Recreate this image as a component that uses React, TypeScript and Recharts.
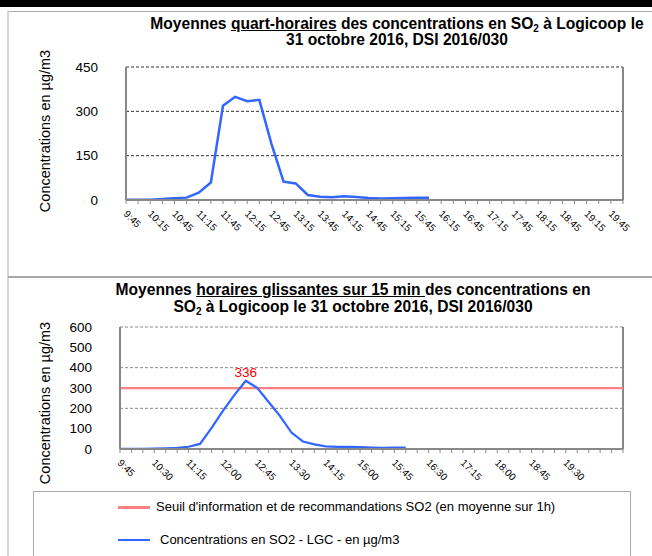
import { LineChart, Line, XAxis, YAxis, CartesianGrid, ReferenceLine } from 'recharts';

// quarter-hour averages (top chart)
const quarterTimes = [
  '9:45', '10:00', '10:15', '10:30', '10:45', '11:00', '11:15', '11:30', '11:45', '12:00',
  '12:15', '12:30', '12:45', '13:00', '13:15', '13:30', '13:45', '14:00', '14:15', '14:30',
  '14:45', '15:00', '15:15', '15:30', '15:45', '16:00', '16:15', '16:30', '16:45', '17:00',
  '17:15', '17:30', '17:45', '18:00', '18:15', '18:30', '18:45', '19:00', '19:15', '19:30',
  '19:45', '20:00',
];
const quarterValues = [1, 1, 1, 3, 6, 8, 25, 59, 319, 349, 334, 339, 190, 62, 56, 17, 11, 9, 13, 10, 7, 5, 6, 7, 8, 8];
const quarterTicks = [0, 150, 300, 450];

// sliding hourly averages (bottom chart)
const slidingTimes = [
  '9:45', '10:00', '10:15', '10:30', '10:45', '11:00', '11:15', '11:30', '11:45', '12:00',
  '12:15', '12:30', '12:45', '13:00', '13:15', '13:30', '13:45', '14:00', '14:15', '14:30',
  '14:45', '15:00', '15:15', '15:30', '15:45', '16:00', '16:15', '16:30', '16:45', '17:00',
  '17:15', '17:30', '17:45', '18:00', '18:15', '18:30', '18:45', '19:00', '19:15', '19:30',
  '19:45', '20:00', '20:15', '20:30', '20:45',
];
const slidingValues = [1, 1, 1, 2, 3, 5, 11, 25, 103, 188, 265, 336, 301, 231, 162, 81, 37, 23, 13, 11, 10, 9, 7, 6, 7, 7];
const slidingTicks = [0, 100, 200, 300, 400, 500, 600];
const slidingGrid = [200, 400, 600];
const threshold = 300;

const FONT = '"Liberation Sans", Arial, sans-serif';
const BLUE = '#3366FF';
const SALMON = '#FF8080';

const quarterData = quarterTimes.map((time, i) => ({ time, value: i < quarterValues.length ? quarterValues[i] : null }));
const slidingData = slidingTimes.map((time, i) => ({ time, value: i < slidingValues.length ? slidingValues[i] : null }));
const peakIndex = slidingValues.indexOf(Math.max(...slidingValues));

function timeTick(props: any, every: number, last: number) {
  const { x, y, payload, index } = props;
  if (index % every !== 0 || index > last) return <g />;
  return (
    <text
      transform={`translate(${x - 3},${y + 8.5}) rotate(45)`}
      textAnchor="start"
      fontSize={10}
      fontFamily={FONT}
      fill="#000"
    >
      {payload.value}
    </text>
  );
}

function peakLabel(props: any) {
  if (props.index !== peakIndex) return null;
  return (
    <text x={props.x} y={props.y - 4} textAnchor="middle" fontSize={13.5} fontFamily={FONT} fill="#FF0000">
      {props.value}
    </text>
  );
}

const yTick = { fill: '#000', fontSize: 13.5, fontFamily: FONT };
const axisLine = { stroke: '#888', strokeWidth: 2 };
const sub2 = <sub style={{ fontSize: 10, verticalAlign: '-3px', lineHeight: 0 }}>2</sub>;

function YTitle({ cx, cy }: { cx: number; cy: number }) {
  return (
    <div
      style={{
        position: 'absolute', left: cx - 100, top: cy - 9, width: 200, height: 18,
        textAlign: 'center', fontSize: 14.5, lineHeight: '18px', transform: 'rotate(-90deg)',
      }}
    >
      Concentrations en µg/m3
    </div>
  );
}

export default function App() {
  return (
    <div style={{ position: 'absolute', left: 0, top: 0, width: 652, height: 556, overflow: 'hidden', background: '#fff', fontFamily: FONT, color: '#000' }}>
      {/* frame */}
      <div style={{ position: 'absolute', left: 0, top: 0, width: 652, height: 7, background: '#000' }} />
      <div style={{ position: 'absolute', left: 8, top: 11, width: 644, height: 1, background: '#aaa' }} />
      <div style={{ position: 'absolute', left: 7, top: 11, width: 2, height: 545, background: '#d4d4d4' }} />
      <div style={{ position: 'absolute', left: 8, top: 276, width: 644, height: 2, background: '#a8a8a8' }} />

      {/* top chart */}
      <div style={{ position: 'absolute', left: 97, top: 16, width: 600, textAlign: 'center', fontWeight: 'bold', fontSize: 15.6, lineHeight: '16px', whiteSpace: 'nowrap' }}>
        Moyennes <u>quart-horaires</u> des concentrations en SO{sub2} à Logicoop le<br />
        31 octobre 2016, DSI 2016/030
      </div>
      <YTitle cx={45} cy={131} />
      <div style={{ position: 'absolute', left: 0, top: 0 }}>
        <LineChart width={652} height={276} data={quarterData} margin={{ top: 67, right: 29, bottom: 0, left: 0 }}>
          <CartesianGrid vertical={false} stroke="#333" strokeDasharray="3 2" />
          <XAxis
            dataKey="time"
            interval={0}
            height={76}
            tickSize={4}
            tickLine={{ stroke: '#888' }}
            axisLine={axisLine}
            tick={(p: any) => timeTick(p, 2, 40)}
          />
          <YAxis domain={[0, 450]} ticks={quarterTicks} interval={0} width={126} tickLine={false} tickMargin={22} axisLine={axisLine} tick={yTick} />
          <ReferenceLine x={quarterTimes[quarterTimes.length - 1]} stroke="#888" strokeWidth={2} />
          <Line type="linear" dataKey="value" stroke={BLUE} strokeWidth={2.5} dot={false} isAnimationActive={false} />
        </LineChart>
      </div>

      {/* bottom chart */}
      <div style={{ position: 'absolute', left: 53, top: 281, width: 600, textAlign: 'center', fontWeight: 'bold', fontSize: 15.6, lineHeight: '17px', whiteSpace: 'nowrap' }}>
        Moyennes <u>horaires glissantes sur 15 min </u>des concentrations en<br />
        SO{sub2} à Logicoop le 31 octobre 2016, DSI 2016/030
      </div>
      <YTitle cx={45} cy={403} />
      <div style={{ position: 'absolute', left: 0, top: 280 }}>
        <LineChart width={652} height={276} data={slidingData} margin={{ top: 47, right: 29, bottom: 0, left: 0 }}>
          {slidingGrid.map((v) => (
            <ReferenceLine key={v} y={v} stroke="#888" strokeDasharray="3 2" />
          ))}
          <XAxis
            dataKey="time"
            interval={0}
            height={107}
            tickSize={4}
            tickLine={{ stroke: '#888' }}
            axisLine={axisLine}
            tick={(p: any) => timeTick(p, 3, 39)}
          />
          <YAxis domain={[0, 600]} ticks={slidingTicks} interval={0} width={120} tickLine={false} tickMargin={22} axisLine={axisLine} tick={yTick} />
          <ReferenceLine x={slidingTimes[slidingTimes.length - 1]} stroke="#888" strokeWidth={2} />
          <ReferenceLine y={threshold} stroke={SALMON} strokeWidth={2.25} />
          <Line type="linear" dataKey="value" stroke={BLUE} strokeWidth={2.25} dot={false} isAnimationActive={false} label={peakLabel} />
        </LineChart>
      </div>

      {/* legend */}
      <div style={{ position: 'absolute', left: 33, top: 491, width: 596, height: 80, border: '1px solid #aaa', background: '#fff', fontSize: 13 }}>
        <div style={{ position: 'absolute', left: 84, top: 14, width: 32, height: 3, background: SALMON }} />
        <div style={{ position: 'absolute', left: 122, top: 7, lineHeight: '16px', whiteSpace: 'nowrap' }}>
          Seuil d'information et de recommandations SO2 (en moyenne sur 1h)
        </div>
        <div style={{ position: 'absolute', left: 84, top: 47, width: 32, height: 2, background: BLUE }} />
        <div style={{ position: 'absolute', left: 126, top: 40, lineHeight: '16px', whiteSpace: 'nowrap' }}>
          Concentrations en SO2 - LGC - en µg/m3
        </div>
      </div>
    </div>
  );
}
